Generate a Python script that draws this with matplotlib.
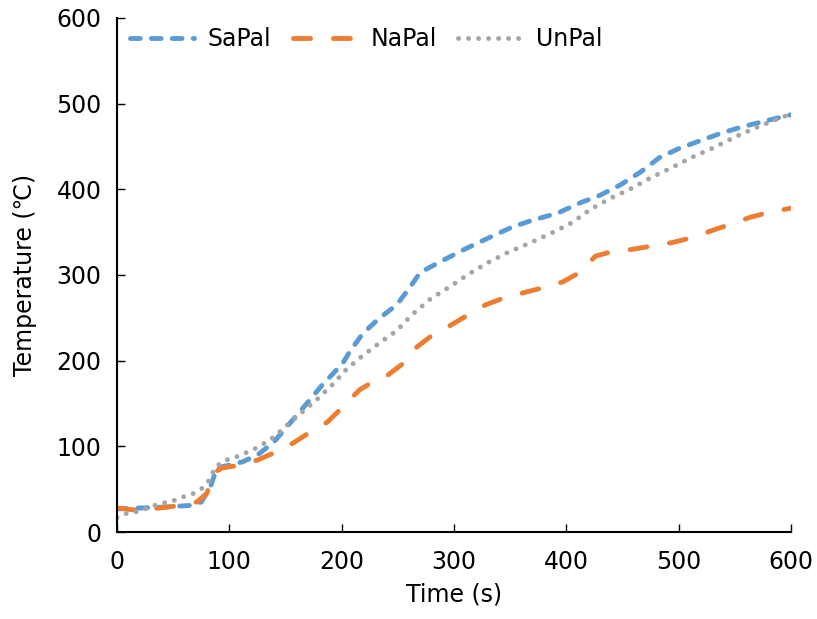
import matplotlib
matplotlib.use("Agg")
import matplotlib.pyplot as plt

plt.rcParams['font.family'] = ['DejaVu Sans', 'Noto Sans CJK SC']

sa_t = [0, 20, 40, 65, 75, 83, 89, 100, 112, 125, 139, 154, 169, 183, 191, 201, 207, 219, 234, 249,
        261, 270, 290, 311, 332, 352, 370, 392, 412, 430, 448, 466, 483, 501, 522, 539, 557, 575, 600]
sa_y = [27, 28, 29, 31, 35, 52, 75, 78, 82, 90, 104, 127, 150, 172, 183, 197, 210, 232, 250, 265,
        286, 303, 317, 331, 344, 356, 364, 372, 384, 393, 405, 420, 437, 448, 458, 466, 473, 479, 487]

na_t = [0, 14, 38, 50, 71, 80, 84, 87, 94, 105, 125, 139, 157, 170, 187, 198, 216, 230, 241, 255,
        267, 281, 298, 312, 328, 344, 361, 379, 397, 412, 426, 440, 459, 477, 495, 513, 530, 546,
        563, 580, 600]
na_y = [28, 26, 28, 30, 35, 45, 61, 70, 75, 77, 84, 92, 104, 115, 128, 142, 166, 177, 183, 197,
        216, 230, 242, 253, 265, 273, 279, 285, 292, 303, 322, 327, 330, 334, 338, 344, 352, 359,
        367, 373, 378]

un_t = [0, 9, 19, 29, 38, 49, 59, 68, 77, 83, 87, 95, 105, 114, 124, 133, 141, 148, 164, 179, 195,
        201, 216, 232, 249, 263, 279, 296, 313, 331, 349, 367, 387, 405, 422, 440, 458, 476, 495,
        513, 532, 550, 569, 588, 600]
un_y = [17, 22, 24, 29, 33, 36, 41, 45, 52, 62, 75, 83, 87, 92, 98, 105, 112, 121, 139, 156, 176,
        186, 203, 219, 235, 254, 272, 286, 301, 315, 327, 337, 349, 361, 377, 390, 401, 414, 426,
        438, 449, 461, 472, 482, 488]

x_ticks = [0, 100, 200, 300, 400, 500, 600]
y_ticks = [0, 100, 200, 300, 400, 500, 600]

fig = plt.figure(figsize=(8.17, 6.19), dpi=100)
ax = fig.add_axes([0.1432, 0.1405, 0.8248, 0.8305])

lw = 3.5
l1, = ax.plot(sa_t, sa_y, color='#5B9BD5', lw=lw, label='SaPal', dash_capstyle='round')
l1.set_dashes((2.0, 2.3))
l2, = ax.plot(na_t, na_y, color='#ED7D31', lw=lw, label='NaPal', dash_capstyle='round')
l2.set_dashes((3.5, 4.7))
l3, = ax.plot(un_t, un_y, color='#A5A5A5', lw=lw, label='UnPal', dash_capstyle='round')
l3.set_dashes((0.01, 2.05))

ax.set_xlim(0, 600)
ax.set_ylim(0, 600)
ax.set_xticks(x_ticks)
ax.set_yticks(y_ticks)
for s in ['top', 'right']:
    ax.spines[s].set_visible(False)
for s in ['left', 'bottom']:
    ax.spines[s].set_linewidth(1.5)
ax.tick_params(direction='in', length=6, width=1.0, labelsize=17)
ax.tick_params(axis='x', pad=13)
ax.tick_params(axis='y', pad=11)
ax.set_xlabel('Time (s)', fontsize=17, labelpad=6)
ax.set_ylabel('Temperature (℃)', fontsize=17, labelpad=14)

ax.legend(loc='upper left', ncol=3, frameon=False, fontsize=17, handlelength=2.7,
          handletextpad=0.6, columnspacing=0.9, bbox_to_anchor=(0.005, 1.0),
          borderaxespad=0.0)

fig.savefig('out.png', dpi=100)
